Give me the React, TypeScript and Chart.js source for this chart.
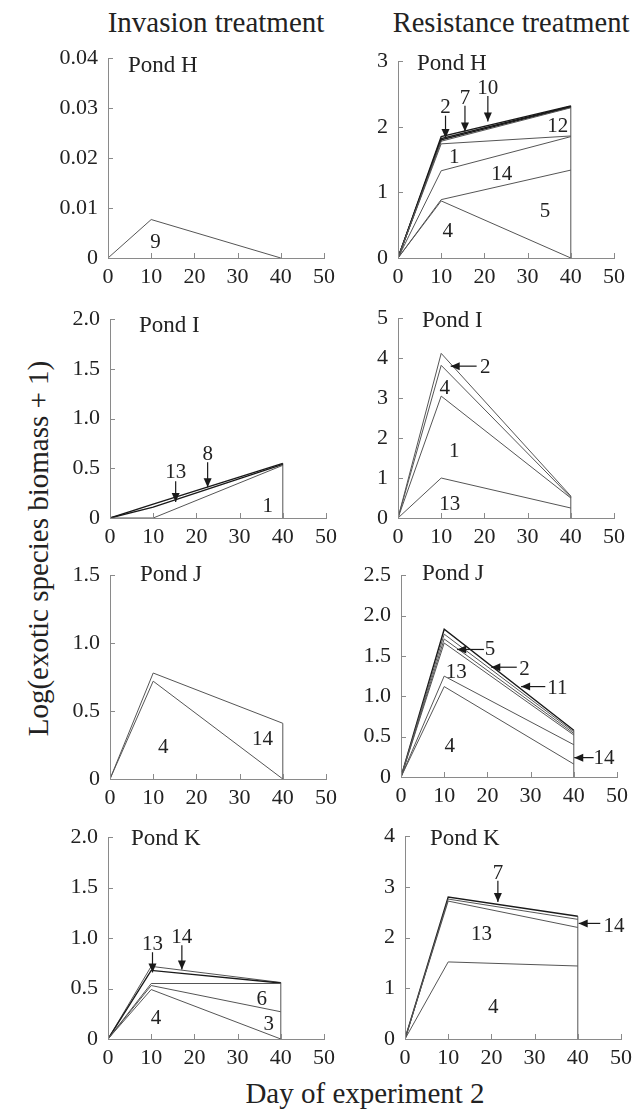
import React, { useEffect, useRef } from "react";
import { Chart, registerables } from "chart.js";

Chart.register(...registerables);

// ---------------- data ----------------
const DAYS = [0, 10, 40];
const X_TICKS = [0, 10, 20, 30, 40, 50];
const X_LABELS = ["0", "10", "20", "30", "40", "50"];

// Invasion treatment – Pond H
const INV_H_Y_TICKS = [0, 0.01, 0.02, 0.03, 0.04];
const INV_H_Y_LABELS = ["0", "0.01", "0.02", "0.03", "0.04"];
const INV_H_SP9 = [0, 0.0077, 0];

// Resistance treatment – Pond H
const RES_H_Y_TICKS = [0, 1, 2, 3];
const RES_H_Y_LABELS = ["0", "1", "2", "3"];
const RES_H_SP4 = [0, 0.87, 0];
const RES_H_SP5 = [0, 0.89, 1.34];
const RES_H_SP14 = [0, 1.33, 1.85];
const RES_H_SP1 = [0, 1.74, 1.86];
const RES_H_SP12 = [0, 1.78, 2.29];
const RES_H_SP2 = [0, 1.8, 2.3];
const RES_H_SP7 = [0, 1.82, 2.31];
const RES_H_SP10 = [0, 1.85, 2.32];

// Invasion treatment – Pond I
const INV_I_Y_TICKS = [0, 0.5, 1.0, 1.5, 2.0];
const INV_I_Y_LABELS = ["0", "0.5", "1.0", "1.5", "2.0"];
const INV_I_SP1 = [0, 0, 0.53];
const INV_I_SP13 = [0, 0.11, 0.54];
const INV_I_SP8 = [0, 0.14, 0.55];

// Resistance treatment – Pond I
const RES_I_Y_TICKS = [0, 1, 2, 3, 4, 5];
const RES_I_Y_LABELS = ["0", "1", "2", "3", "4", "5"];
const RES_I_SP13 = [0, 1.0, 0.25];
const RES_I_SP1 = [0, 3.05, 0.5];
const RES_I_SP4 = [0, 3.82, 0.52];
const RES_I_SP2 = [0, 4.12, 0.55];

// Invasion treatment – Pond J
const INV_J_Y_TICKS = [0, 0.5, 1.0, 1.5];
const INV_J_Y_LABELS = ["0", "0.5", "1.0", "1.5"];
const INV_J_SP4 = [0, 0.72, 0];
const INV_J_SP14 = [0, 0.78, 0.41];

// Resistance treatment – Pond J
const RES_J_Y_TICKS = [0, 0.5, 1.0, 1.5, 2.0, 2.5];
const RES_J_Y_LABELS = ["0", "0.5", "1.0", "1.5", "2.0", "2.5"];
const RES_J_SP4 = [0, 1.12, 0.16];
const RES_J_SP14 = [0, 1.25, 0.4];
const RES_J_SP13 = [0, 1.66, 0.52];
const RES_J_SP5 = [0, 1.71, 0.54];
const RES_J_SP2 = [0, 1.77, 0.56];
const RES_J_SP11 = [0, 1.83, 0.58];

// Invasion treatment – Pond K
const INV_K_Y_TICKS = [0, 0.5, 1.0, 1.5, 2.0];
const INV_K_Y_LABELS = ["0", "0.5", "1.0", "1.5", "2.0"];
const INV_K_SP4 = [0, 0.49, 0];
const INV_K_SP3 = [0, 0.53, 0.27];
const INV_K_SP6 = [0, 0.55, 0.55];
const INV_K_SP13 = [0, 0.68, 0.555];
const INV_K_SP14 = [0, 0.72, 0.56];

// Resistance treatment – Pond K
const RES_K_Y_TICKS = [0, 1, 2, 3, 4];
const RES_K_Y_LABELS = ["0", "1", "2", "3", "4"];
const RES_K_SP4 = [0, 1.52, 1.44];
const RES_K_SP13 = [0, 2.72, 2.2];
const RES_K_SP14 = [0, 2.76, 2.36];
const RES_K_SP7 = [0, 2.8, 2.42];

// ---------------- styles ----------------
const FONT = '"Liberation Serif", "Times New Roman", serif';
const TEXT_COLOR = "#222";
const AXIS_COLOR = "#8a8a8a";
const LINE_COLOR = "#555";
const DARK_COLOR = "#1a1a1a";
const TICK_SIZE = 22;
const LABEL_SIZE = 21;
const POND_SIZE = 23;
const TITLE_SIZE = 29;

const Y_AXIS_W = 60;
const X_AXIS_H = 32;
const TOP_PAD = 14;
const RIGHT_PAD = 20;
const PLOT_W = 216;

type Line = { data: number[]; dark?: boolean };
type Label = { t: string; x: number; y: number };
type Arrow = { x1: number; y1: number; x2: number; y2: number };
type PanelDef = {
  key: string;
  axisX: number;
  top: number;
  h: number;
  yMax: number;
  yTicks: number[];
  yLabels: string[];
  pond: string;
  pondDx: number;
  pondDy: number;
  lines: Line[];
  labels: Label[];
  arrows: Arrow[];
};

const PANELS: PanelDef[] = [
  {
    key: "invH", axisX: 108, top: 57, h: 201, yMax: 0.04,
    yTicks: INV_H_Y_TICKS, yLabels: INV_H_Y_LABELS,
    pond: "Pond H", pondDx: 20, pondDy: 6,
    lines: [{ data: INV_H_SP9 }],
    labels: [{ t: "9", x: 11, y: 0.0033 }],
    arrows: [],
  },
  {
    key: "resH", axisX: 398, top: 60, h: 198, yMax: 3,
    yTicks: RES_H_Y_TICKS, yLabels: RES_H_Y_LABELS,
    pond: "Pond H", pondDx: 19, pondDy: 1,
    lines: [
      { data: RES_H_SP4 }, { data: RES_H_SP5 }, { data: RES_H_SP14 }, { data: RES_H_SP1 },
      { data: RES_H_SP12 }, { data: RES_H_SP2, dark: true }, { data: RES_H_SP7, dark: true },
      { data: RES_H_SP10, dark: true },
    ],
    labels: [
      { t: "2", x: 11, y: 2.31 }, { t: "7", x: 15.5, y: 2.46 }, { t: "10", x: 20.8, y: 2.6 },
      { t: "12", x: 37, y: 2.02 }, { t: "1", x: 13, y: 1.56 }, { t: "14", x: 24, y: 1.29 },
      { t: "5", x: 34, y: 0.73 }, { t: "4", x: 11.5, y: 0.43 },
    ],
    arrows: [
      { x1: 11, y1: 2.17, x2: 11, y2: 1.83 },
      { x1: 15.5, y1: 2.32, x2: 15.5, y2: 1.93 },
      { x1: 20.8, y1: 2.47, x2: 20.8, y2: 2.08 },
    ],
  },
  {
    key: "invI", axisX: 110, top: 318, h: 200, yMax: 2,
    yTicks: INV_I_Y_TICKS, yLabels: INV_I_Y_LABELS,
    pond: "Pond I", pondDx: 29, pondDy: 5,
    lines: [{ data: INV_I_SP1 }, { data: INV_I_SP13, dark: true }, { data: INV_I_SP8, dark: true }],
    labels: [{ t: "13", x: 15.2, y: 0.47 }, { t: "8", x: 22.6, y: 0.65 }, { t: "1", x: 36.5, y: 0.13 }],
    arrows: [
      { x1: 15.2, y1: 0.37, x2: 15.2, y2: 0.16 },
      { x1: 22.6, y1: 0.56, x2: 22.6, y2: 0.31 },
    ],
  },
  {
    key: "resI", axisX: 398, top: 317, h: 201, yMax: 5,
    yTicks: RES_I_Y_TICKS, yLabels: RES_I_Y_LABELS,
    pond: "Pond I", pondDx: 24, pondDy: 1,
    lines: [{ data: RES_I_SP13 }, { data: RES_I_SP1 }, { data: RES_I_SP4 }, { data: RES_I_SP2 }],
    labels: [
      { t: "2", x: 20.2, y: 3.8 }, { t: "4", x: 10.8, y: 3.27 }, { t: "1", x: 13, y: 1.69 },
      { t: "13", x: 12, y: 0.37 },
    ],
    arrows: [{ x1: 18.2, y1: 3.8, x2: 12.2, y2: 3.8 }],
  },
  {
    key: "invJ", axisX: 110, top: 574, h: 205, yMax: 1.5,
    yTicks: INV_J_Y_TICKS, yLabels: INV_J_Y_LABELS,
    pond: "Pond J", pondDx: 30, pondDy: -2,
    lines: [{ data: INV_J_SP4 }, { data: INV_J_SP14 }],
    labels: [{ t: "4", x: 12.3, y: 0.24 }, { t: "14", x: 35.3, y: 0.3 }],
    arrows: [],
  },
  {
    key: "resJ", axisX: 401, top: 574, h: 203, yMax: 2.5,
    yTicks: RES_J_Y_TICKS, yLabels: RES_J_Y_LABELS,
    pond: "Pond J", pondDx: 21, pondDy: -3,
    lines: [
      { data: RES_J_SP4 }, { data: RES_J_SP14 }, { data: RES_J_SP13 }, { data: RES_J_SP5 },
      { data: RES_J_SP2 }, { data: RES_J_SP11, dark: true },
    ],
    labels: [
      { t: "13", x: 12.8, y: 1.31 }, { t: "4", x: 11.3, y: 0.4 }, { t: "5", x: 20.6, y: 1.6 },
      { t: "2", x: 28.6, y: 1.35 }, { t: "11", x: 36.2, y: 1.12 }, { t: "14", x: 47, y: 0.25 },
    ],
    arrows: [
      { x1: 19.2, y1: 1.58, x2: 13, y2: 1.58 },
      { x1: 26.8, y1: 1.36, x2: 20.9, y2: 1.36 },
      { x1: 33.4, y1: 1.12, x2: 27.8, y2: 1.12 },
      { x1: 44.6, y1: 0.24, x2: 40.1, y2: 0.24 },
    ],
  },
  {
    key: "invK", axisX: 108, top: 836, h: 203, yMax: 2,
    yTicks: INV_K_Y_TICKS, yLabels: INV_K_Y_LABELS,
    pond: "Pond K", pondDx: 23, pondDy: 0,
    lines: [
      { data: INV_K_SP4 }, { data: INV_K_SP3 }, { data: INV_K_SP6 },
      { data: INV_K_SP13, dark: true }, { data: INV_K_SP14 },
    ],
    labels: [
      { t: "13", x: 10.3, y: 0.95 }, { t: "14", x: 17.1, y: 1.02 }, { t: "4", x: 11.1, y: 0.22 },
      { t: "6", x: 35.6, y: 0.41 }, { t: "3", x: 37.2, y: 0.16 },
    ],
    arrows: [
      { x1: 10.3, y1: 0.86, x2: 10.3, y2: 0.66 },
      { x1: 17.1, y1: 0.93, x2: 17.1, y2: 0.69 },
    ],
  },
  {
    key: "resK", axisX: 405, top: 835, h: 204, yMax: 4,
    yTicks: RES_K_Y_TICKS, yLabels: RES_K_Y_LABELS,
    pond: "Pond K", pondDx: 25, pondDy: 1,
    lines: [{ data: RES_K_SP4 }, { data: RES_K_SP13 }, { data: RES_K_SP14 }, { data: RES_K_SP7, dark: true }],
    labels: [
      { t: "7", x: 21.5, y: 3.3 }, { t: "13", x: 17.7, y: 2.08 }, { t: "4", x: 20.4, y: 0.64 },
      { t: "14", x: 48.4, y: 2.25 },
    ],
    arrows: [
      { x1: 21.5, y1: 3.12, x2: 21.5, y2: 2.7 },
      { x1: 45.2, y1: 2.28, x2: 40.2, y2: 2.28 },
    ],
  },
];

// ---------------- drawing helpers ----------------
function drawCenteredText(ctx: CanvasRenderingContext2D, text: string, cx: number, cy: number, size: number, align: CanvasTextAlign = "center") {
  ctx.font = `${size}px ${FONT}`;
  ctx.textAlign = align;
  ctx.textBaseline = "alphabetic";
  ctx.fillText(text, cx, cy + size * 0.33);
}

function drawArrow(ctx: CanvasRenderingContext2D, x1: number, y1: number, x2: number, y2: number) {
  ctx.beginPath();
  ctx.moveTo(x1, y1);
  ctx.lineTo(x2, y2);
  ctx.stroke();
  const a = Math.atan2(y2 - y1, x2 - x1);
  const L = 9;
  const W = 4;
  const bx = x2 - L * Math.cos(a);
  const by = y2 - L * Math.sin(a);
  ctx.beginPath();
  ctx.moveTo(x2, y2);
  ctx.lineTo(bx + W * Math.sin(a), by - W * Math.cos(a));
  ctx.lineTo(bx - W * Math.sin(a), by + W * Math.cos(a));
  ctx.closePath();
  ctx.fill();
}

function makeDecor(p: PanelDef) {
  return {
    id: "decor_" + p.key,
    afterDraw(chart: any) {
      const ctx: CanvasRenderingContext2D = chart.ctx;
      const xs = chart.scales.x;
      const ys = chart.scales.y;
      ctx.save();
      // inward tick marks
      ctx.strokeStyle = AXIS_COLOR;
      ctx.lineWidth = 1;
      xs.ticks.forEach((t: any) => {
        const px = Math.round(xs.getPixelForValue(t.value)) + 0.5;
        ctx.beginPath();
        ctx.moveTo(px, ys.bottom);
        ctx.lineTo(px, ys.bottom - 5);
        ctx.stroke();
      });
      ys.ticks.forEach((t: any) => {
        const py = Math.round(ys.getPixelForValue(t.value)) + 0.5;
        ctx.beginPath();
        ctx.moveTo(xs.left, py);
        ctx.lineTo(xs.left + 5, py);
        ctx.stroke();
      });
      // arrows
      ctx.strokeStyle = DARK_COLOR;
      ctx.fillStyle = DARK_COLOR;
      ctx.lineWidth = 1.2;
      p.arrows.forEach((a) => {
        drawArrow(ctx, xs.getPixelForValue(a.x1), ys.getPixelForValue(a.y1), xs.getPixelForValue(a.x2), ys.getPixelForValue(a.y2));
      });
      // species labels
      ctx.fillStyle = TEXT_COLOR;
      p.labels.forEach((l) => {
        drawCenteredText(ctx, l.t, xs.getPixelForValue(l.x), ys.getPixelForValue(l.y), LABEL_SIZE);
      });
      // pond label
      drawCenteredText(ctx, p.pond, chart.chartArea.left + p.pondDx, chart.chartArea.top + p.pondDy, POND_SIZE, "left");
      ctx.restore();
    },
  };
}

function buildConfig(p: PanelDef): any {
  const datasets: any[] = p.lines.map((ln) => ({
    data: DAYS.map((d, i) => ({ x: d, y: ln.data[i] })),
    borderColor: ln.dark ? DARK_COLOR : LINE_COLOR,
    borderWidth: ln.dark ? 1.4 : 1,
    pointRadius: 0,
    tension: 0,
    fill: false,
  }));
  const topAt40 = Math.max(...p.lines.map((ln) => ln.data[DAYS.length - 1]));
  if (topAt40 > 0) {
    datasets.push({
      data: [
        { x: DAYS[DAYS.length - 1], y: 0 },
        { x: DAYS[DAYS.length - 1], y: topAt40 },
      ],
      borderColor: LINE_COLOR,
      borderWidth: 1,
      pointRadius: 0,
      fill: false,
    });
  }
  const tickFont = { family: FONT, size: TICK_SIZE };
  return {
    type: "line",
    data: { datasets },
    options: {
      responsive: false,
      animation: false,
      events: [],
      layout: { padding: { top: TOP_PAD, right: RIGHT_PAD, left: 0, bottom: 0 } },
      plugins: { legend: { display: false }, tooltip: { enabled: false }, title: { display: false } },
      scales: {
        x: {
          type: "linear",
          min: 0,
          max: 50,
          afterBuildTicks: (s: any) => {
            s.ticks = X_TICKS.map((v) => ({ value: v }));
          },
          afterFit: (s: any) => {
            s.height = X_AXIS_H;
          },
          grid: { display: false },
          border: { display: true, color: AXIS_COLOR, width: 1 },
          ticks: {
            font: tickFont,
            color: TEXT_COLOR,
            padding: -2,
            maxRotation: 0,
            autoSkip: false,
            callback: (_v: any, i: number) => X_LABELS[i],
          },
        },
        y: {
          type: "linear",
          min: 0,
          max: p.yMax,
          afterBuildTicks: (s: any) => {
            s.ticks = p.yTicks.map((v) => ({ value: v }));
          },
          afterFit: (s: any) => {
            s.width = Y_AXIS_W;
          },
          grid: { display: false },
          border: { display: true, color: AXIS_COLOR, width: 1 },
          ticks: {
            font: tickFont,
            color: TEXT_COLOR,
            padding: 2,
            autoSkip: false,
            callback: (_v: any, i: number) => p.yLabels[i],
          },
        },
      },
    },
    plugins: [makeDecor(p)],
  };
}

function Panel({ p }: { p: PanelDef }) {
  const ref = useRef<HTMLCanvasElement>(null);
  useEffect(() => {
    if (!ref.current) return;
    const chart = new Chart(ref.current, buildConfig(p));
    return () => chart.destroy();
  }, [p]);
  const width = Y_AXIS_W + PLOT_W + RIGHT_PAD;
  const height = TOP_PAD + p.h + X_AXIS_H;
  return (
    <canvas
      ref={ref}
      width={width}
      height={height}
      style={{ position: "absolute", left: p.axisX - Y_AXIS_W, top: p.top - TOP_PAD, width, height }}
    />
  );
}

const titleStyle: React.CSSProperties = {
  position: "absolute",
  fontFamily: FONT,
  fontSize: TITLE_SIZE,
  lineHeight: `${TITLE_SIZE}px`,
  color: TEXT_COLOR,
  whiteSpace: "nowrap",
  textAlign: "center",
  width: 400,
};

export default function App() {
  return (
    <div
      style={{
        position: "fixed",
        left: 0,
        top: 0,
        width: 642,
        height: 1110,
        background: "#fff",
        overflow: "hidden",
      }}
    >
      <div style={{ ...titleStyle, left: 216 - 200, top: 8 }}>Invasion treatment</div>
      <div style={{ ...titleStyle, fontSize: 28.5, left: 511 - 200, top: 8 }}>Resistance treatment</div>
      <div style={{ ...titleStyle, left: 365 - 200, top: 1079 }}>Day of experiment 2</div>
      <div
        style={{
          ...titleStyle,
          left: 38 - 200,
          top: 548 - TITLE_SIZE / 2,
          transform: "rotate(-90deg)",
          transformOrigin: "50% 50%",
        }}
      >
        Log(exotic species biomass + 1)
      </div>
      {PANELS.map((p) => (
        <Panel key={p.key} p={p} />
      ))}
    </div>
  );
}
